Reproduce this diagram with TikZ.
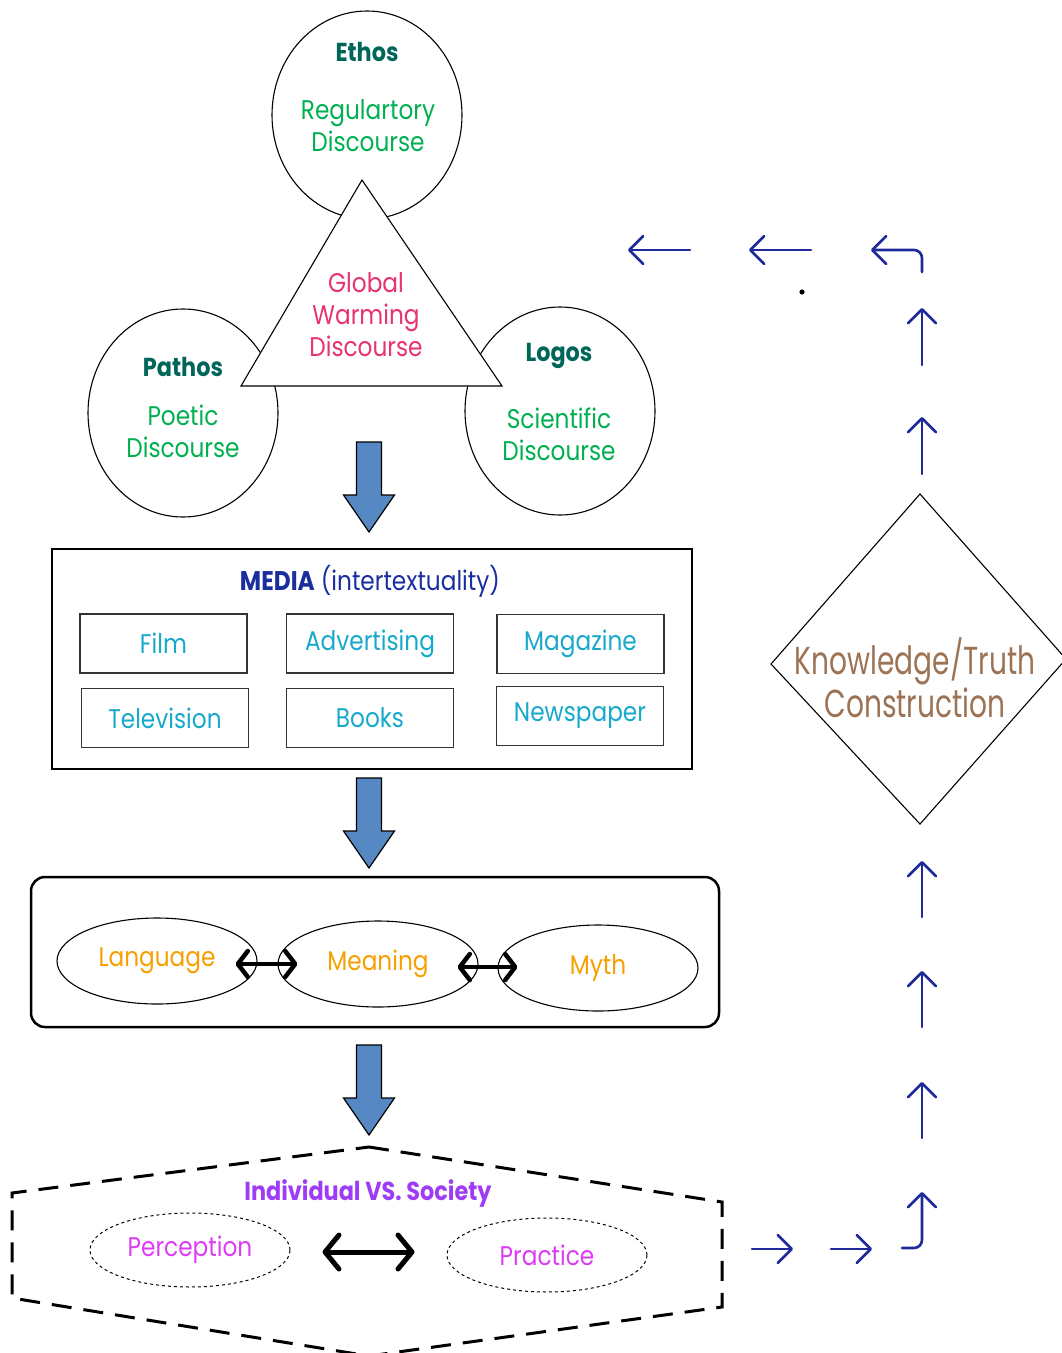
\documentclass[tikz,border=0pt]{standalone}
\usepackage{fontspec}
\setmainfont{Poppins}[FakeStretch=0.86]
\newfontfamily\ktfont{Poppins}[FakeStretch=0.72]
\usetikzlibrary{arrows.meta,calc,shapes.geometric}

\definecolor{titleteal}{HTML}{00665A}
\definecolor{discgreen}{HTML}{00B050}
\definecolor{warmpink}{HTML}{E8336E}
\definecolor{mediablue}{HTML}{1A2EA0}
\definecolor{mediacyan}{HTML}{17A9CB}
\definecolor{signorange}{HTML}{F5A000}
\definecolor{socpurple}{HTML}{9E3CF5}
\definecolor{socmagenta}{HTML}{DD3CF5}
\definecolor{truthbrown}{HTML}{9C7355}
\definecolor{flowblue}{HTML}{1F2A9A}
\definecolor{blockfill}{HTML}{5689C3}

\tikzset{
  circ/.style={draw, line width=1.1, ellipse, minimum width=190, minimum height=208, inner sep=0},
  headtxt/.style={font=\fontsize{26}{30}\selectfont\bfseries, text=titleteal},
  disctxt/.style={font=\fontsize{27}{32}\selectfont, text=discgreen, align=center},
  mediabox/.style={draw=black!80, line width=1.5, minimum width=167, minimum height=59, inner sep=0,
                   font=\fontsize{27}{30}\selectfont, text=mediacyan},
  signel/.style={draw, line width=1.1, ellipse, minimum width=200, minimum height=86, inner sep=0,
                 font=\fontsize{27}{30}\selectfont, text=signorange},
  socel/.style={draw, dashed, line width=1, ellipse, minimum width=200, minimum height=74, inner sep=0,
                font=\fontsize{27}{30}\selectfont, text=socmagenta},
  bigdbl/.style={draw, line width=4.5, line cap=round, {Straight Barb[length=10, width=26, line cap=round, line join=round]}-{Straight Barb[length=10, width=26, line cap=round, line join=round]}},
  hugedbl/.style={draw, line width=5, line cap=round, {Straight Barb[length=14, width=34, line cap=round, line join=round]}-{Straight Barb[length=14, width=34, line cap=round, line join=round]}},
  flow/.style={draw=flowblue, line width=2.6, line cap=round, -{Straight Barb[length=14, width=28, line cap=round, line join=round]}},
  pics/downarrow/.style={code={
    \draw[fill=blockfill, line width=1.2, line join=miter]
      (-12.5,0) -- (12.5,0) -- (12.5,53) -- (25.5,53) -- (0,90) -- (-25.5,53) -- (-12.5,53) -- cycle;}}
}

\begin{document}
\begin{tikzpicture}[x=1pt, y=-1pt]
\useasboundingbox (0,0) rectangle (1061,1353);

% the three appeals
\node[circ] (ethos)  at (367,115) {};
\node[circ] (pathos) at (183,413) {};
\node[circ] (logos)  at (560,411) {};

% central triangle over the circles
\coordinate (tA) at (362,180);
\coordinate (tB) at (241,386);
\coordinate (tC) at (502,386);
\draw[fill=white, line width=1.1, line join=miter] (tA) -- (tB) -- (tC) -- cycle;

\node[headtxt] (ethosT)  at (367,52)  {Ethos};
\node[disctxt] (ethosD)  at (368,126) {Regulartory\\Discourse};
\node[headtxt] (pathosT) at (183,367) {Pathos};
\node[disctxt] (pathosD) at (183,431) {Poetic\\Discourse};
\node[headtxt] (logosT)  at (559,356) {Logos};
\node[disctxt] (logosD)  at (559,434) {Scientific\\Discourse};
\node[disctxt, text=warmpink] (gwd) at (366,315) {Global\\Warming\\Discourse};

\pic at (369,442) {downarrow};

% media
\node[draw, line width=2.5, minimum width=640, minimum height=220, inner sep=0] (media) at (372,659) {};
\node[font=\fontsize{27}{30}\selectfont, text=mediablue] (mediaT) at (370,581) {\textbf{MEDIA} (intertextuality)};
\node[mediabox] (film)  at (163.5,643.5) {Film};
\node[mediabox] (adv)   at (370,643.5)   {Advertising};
\node[mediabox] (mag)   at (580.5,644)   {Magazine};
\node[mediabox] (tv)    at (165,718)     {Television};
\node[mediabox] (books) at (370,718)     {Books};
\node[mediabox] (news)  at (580,716)     {Newspaper};

\pic at (369,778) {downarrow};

% signification
\node[draw, line width=2.5, rounded corners=14, minimum width=688, minimum height=150, inner sep=0] (signs) at (375,952) {};
\node[signel] (lang) at (157,961) {Language};
\node[signel] (mean) at (378,964) {Meaning};
\node[signel] (myth) at (598,968) {Myth};
\draw[bigdbl] ($(lang.east)+(-22,3)$) -- ($(mean.west)+(20,0)$);
\draw[bigdbl] ($(mean.east)+(-21,3)$) -- ($(myth.west)+(20,-1)$);

\pic at (369,1045) {downarrow};

% individual vs. society
\coordinate (hT)  at (369,1147);
\coordinate (hUL) at (12,1193);
\coordinate (hLL) at (12,1298);
\coordinate (hB)  at (369,1356);
\coordinate (hLR) at (722,1307);
\coordinate (hUR) at (722,1202);
\draw[line width=3, dash pattern=on 20 off 12, line join=miter] (hT) -- (hUR) -- (hLR) -- (hB) -- (hLL) -- (hUL) -- cycle;
\node[font=\fontsize{26}{30}\selectfont\bfseries, text=socpurple] (socT) at (368,1194) {Individual VS. Society};
\node[socel] (perc) at (190,1250) {Perception};
\node[socel] (prac) at (547,1255) {Practice};
\draw[hugedbl] ($(perc.east)+(32,2)$) -- ($(prac.west)+(-32,-3)$);

% knowledge / truth construction
\coordinate (dT) at (920,494);
\coordinate (dR) at (1066,659);
\coordinate (dB) at (920,824);
\coordinate (dL) at (771,664);
\draw[line width=1.1, line join=miter] (dT) -- (dR) -- (dB) -- (dL) -- cycle;
\node[font=\ktfont\fontsize{39}{43}\selectfont, text=truthbrown, align=center] (kt) at (915,678) {Knowledge/Truth\\Construction};

% feedback chain
\draw[flow] (752,1249) -- (793,1249);
\draw[flow] (831,1249) -- (872,1249);
\draw[flow, rounded corners=8] (902,1248) -- (922,1248) -- (922,1192);
\draw[flow] (922,1138) -- (922,1082);
\draw[flow] (922,1027) -- (922,971);
\draw[flow] (922,917) -- (922,861);
\draw[flow] (922,474) -- (922,417);
\draw[flow] (922,365) -- (922,308);
\draw[flow, rounded corners=8] (922,272) -- (922,250) -- (871,250);
\draw[flow] (811,250) -- (749,250);
\draw[flow] (690,250) -- (628,250);
\fill (802,292) circle (2.6);
\end{tikzpicture}
\end{document}
